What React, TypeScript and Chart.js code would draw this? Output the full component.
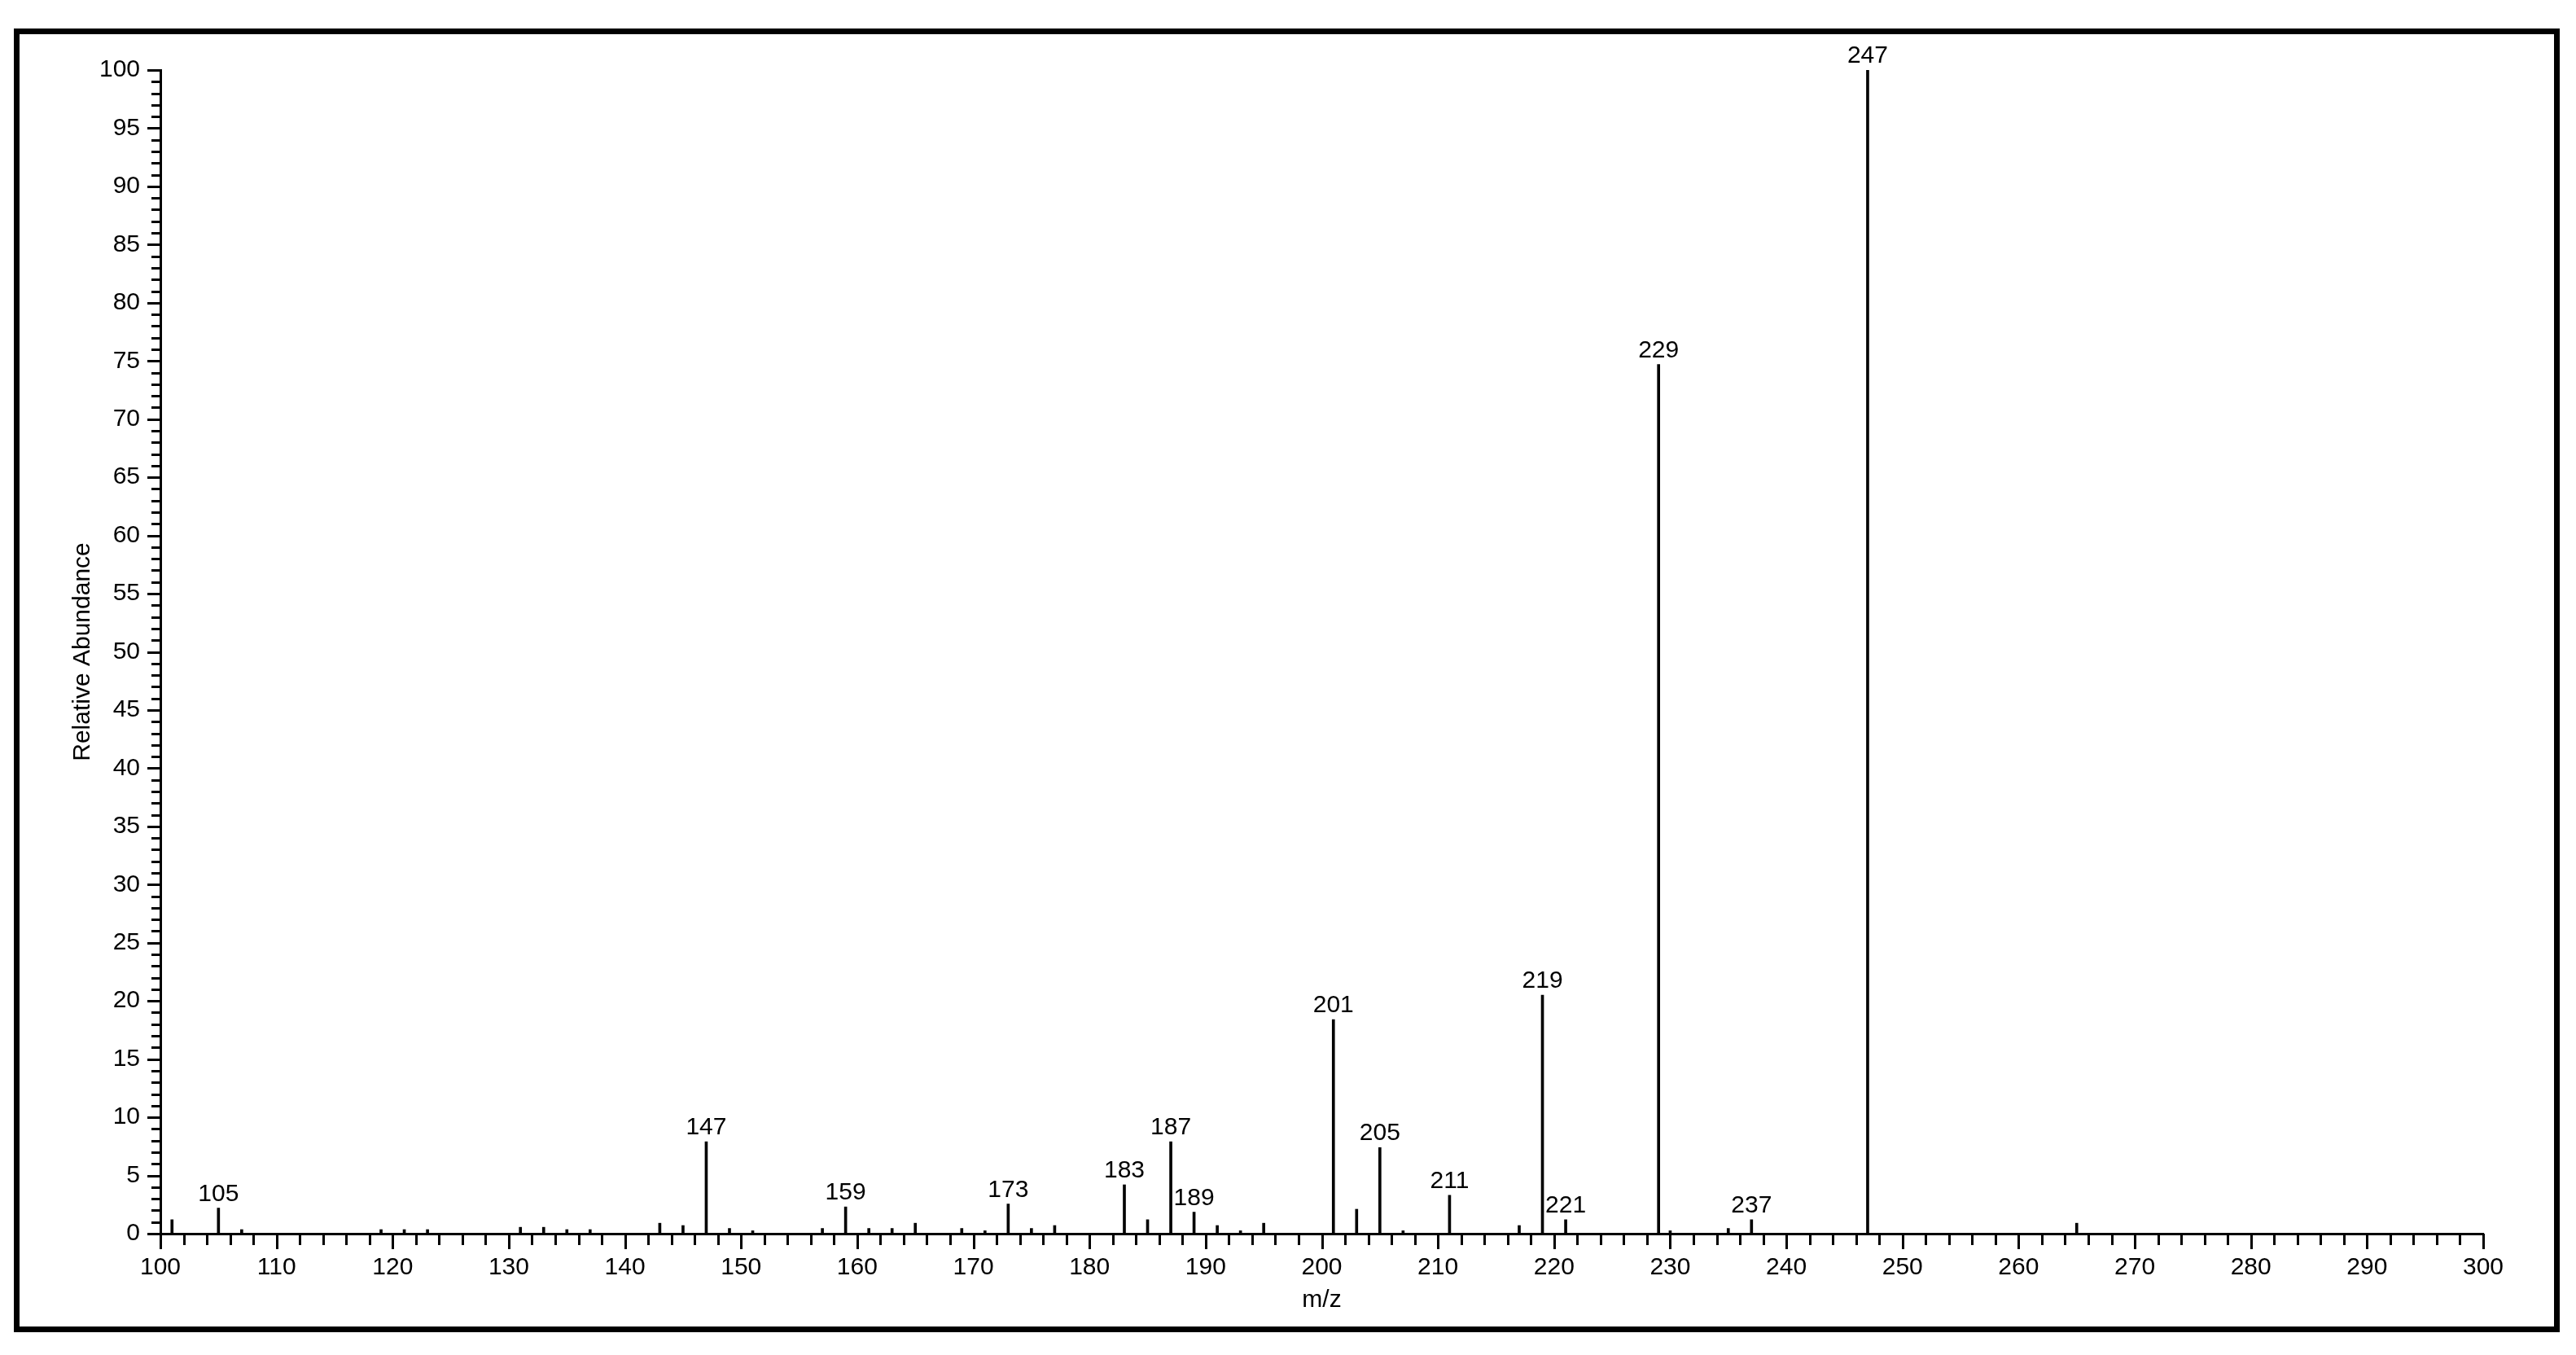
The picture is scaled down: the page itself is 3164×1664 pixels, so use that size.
import React, { useEffect, useRef } from "react";
import { Chart, registerables } from "chart.js";

Chart.register(...registerables);

// m/z values of every stick in the spectrum
const mzValues = [
  101, 105, 107, 119, 121, 123, 131, 133, 135, 137,
  143, 145, 147, 149, 151, 157, 159, 161, 163, 165,
  169, 171, 173, 175, 177, 183, 185, 187, 189, 191,
  193, 195, 201, 203, 205, 207, 211, 217, 219, 221,
  229, 230, 235, 237, 247, 265,
];

// relative abundance (%) of each stick
const abundances = [
  1.2, 2.2, 0.35, 0.35, 0.35, 0.35, 0.55, 0.55, 0.35, 0.35,
  0.9, 0.7, 7.9, 0.45, 0.25, 0.45, 2.3, 0.45, 0.45, 0.9,
  0.45, 0.25, 2.55, 0.45, 0.7, 4.2, 1.2, 7.9, 1.85, 0.7,
  0.25, 0.9, 18.4, 2.1, 7.4, 0.25, 3.3, 0.7, 20.5, 1.2,
  74.7, 0.25, 0.45, 1.2, 100, 0.9,
];

// sticks that carry an m/z annotation
const labeledPeaks = [105, 147, 159, 173, 183, 187, 189, 201, 205, 211, 219, 221, 229, 237, 247];

// axis ranges / tick spacing
const xRange = [100, 300];
const yRange = [0, 100];
const xMajorStep = 10;
const xMinorStep = 2;
const yMajorStep = 5;
const yMinorStep = 1;

const xTitle = "m/z";
const yTitle = "Relative Abundance";

const FONT = "'Liberation Sans', Arial, sans-serif";

export default function App() {
  const canvasRef = useRef<HTMLCanvasElement>(null);

  useEffect(() => {
    const canvas = canvasRef.current;
    if (!canvas) return;

    const tickPlugin = {
      id: "msTicksAndLabels",
      afterDraw(chart: any) {
        const ctx = chart.ctx as CanvasRenderingContext2D;
        const xs = chart.scales.x;
        const ys = chart.scales.y;
        const area = chart.chartArea;
        ctx.save();
        ctx.strokeStyle = "#000";
        ctx.lineWidth = 3;
        ctx.lineCap = "butt";
        // x-axis tick marks (major every 10, minor every 2)
        for (let v = xRange[0]; v <= xRange[1] + 1e-6; v += xMinorStep) {
          const px = Math.round(xs.getPixelForValue(v)) + 0.5;
          const len = v % xMajorStep === 0 ? 19 : 14;
          ctx.beginPath();
          ctx.moveTo(px, area.bottom);
          ctx.lineTo(px, area.bottom + len);
          ctx.stroke();
        }
        // y-axis tick marks (major every 5, minor every 1)
        for (let v = yRange[0]; v <= yRange[1] + 1e-6; v += yMinorStep) {
          const py = Math.round(ys.getPixelForValue(v)) + 0.5;
          const len = v % yMajorStep === 0 ? 16 : 11;
          ctx.beginPath();
          ctx.moveTo(area.left, py);
          ctx.lineTo(area.left - len, py);
          ctx.stroke();
        }
        // peak annotations
        const meta = chart.getDatasetMeta(0);
        ctx.fillStyle = "#000";
        ctx.font = `30px ${FONT}`;
        ctx.textAlign = "center";
        ctx.textBaseline = "alphabetic";
        meta.data.forEach((el: any, i: number) => {
          const mz = mzValues[i];
          if (labeledPeaks.includes(mz)) {
            ctx.fillText(String(mz), el.x, el.y - 9);
          }
        });
        ctx.restore();
      },
    };

    const chart = new Chart(canvas, {
      type: "bar",
      data: {
        datasets: [
          {
            data: mzValues.map((m, i) => ({ x: m, y: abundances[i] })),
            backgroundColor: "#000",
            borderWidth: 0,
            barThickness: 3,
          },
        ],
      },
      options: {
        animation: false,
        responsive: false,
        devicePixelRatio: 1,
        layout: { padding: { left: 0, top: 86, right: 114, bottom: 0 } },
        plugins: {
          legend: { display: false },
          tooltip: { enabled: false },
        },
        scales: {
          x: {
            type: "linear",
            min: xRange[0],
            max: xRange[1],
            offset: false,
            grid: { display: false },
            border: { display: true, color: "#000", width: 3 },
            ticks: {
              stepSize: xMajorStep,
              color: "#000",
              font: { family: FONT, size: 30 },
              padding: 16,
              maxRotation: 0,
              autoSkip: false,
            },
            title: {
              display: true,
              text: xTitle,
              color: "#000",
              font: { family: FONT, size: 30 },
              padding: { top: 0, bottom: 49 },
            },
            afterFit: (s: any) => {
              s.height = 149;
            },
          },
          y: {
            type: "linear",
            min: yRange[0],
            max: yRange[1],
            grid: { display: false },
            border: { display: true, color: "#000", width: 3 },
            ticks: {
              stepSize: yMajorStep,
              color: "#000",
              font: { family: FONT, size: 30 },
              padding: 17,
            },
            title: {
              display: true,
              text: yTitle,
              color: "#000",
              font: { family: FONT, size: 30 },
              padding: { top: 84, bottom: 0 },
            },
            afterFit: (s: any) => {
              s.width = 197;
            },
          },
        },
      },
      plugins: [tickPlugin],
    } as any);

    return () => chart.destroy();
  }, []);

  return (
    <div
      style={{
        position: "absolute",
        left: 0,
        top: 0,
        width: 3164,
        height: 1664,
        background: "#fff",
        overflow: "hidden",
      }}
    >
      <canvas
        ref={canvasRef}
        width={3164}
        height={1664}
        style={{ position: "absolute", left: 0, top: 0, width: 3164, height: 1664 }}
      />
      <div
        style={{
          position: "absolute",
          left: 17,
          top: 35,
          width: 3127,
          height: 1601,
          border: "7px solid #000",
          boxSizing: "border-box",
          pointerEvents: "none",
        }}
      />
    </div>
  );
}
